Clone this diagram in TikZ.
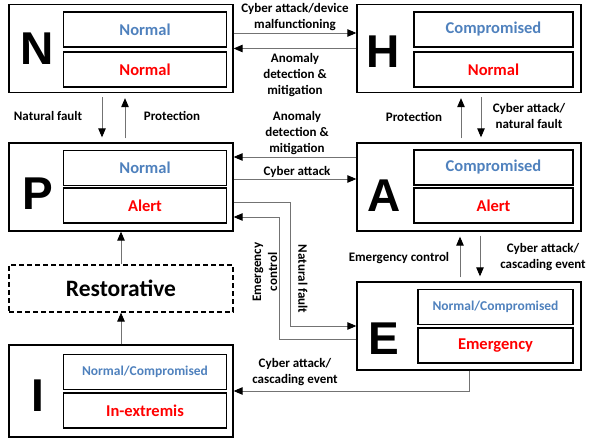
\documentclass[tikz,border=0pt]{standalone}
\usepackage{fontspec}
\setmainfont{Carlito}
\newfontfamily\letterfont{Liberation Sans}
\usetikzlibrary{arrows.meta}
\definecolor{stblue}{RGB}{79,129,189}
\definecolor{stred}{RGB}{255,0,0}
\newcommand{\lb}{\fontsize{13}{16}\selectfont\bfseries}

\begin{document}
\begin{tikzpicture}[x=1pt,y=-1pt,
   outer/.style={draw,line width=1.3pt,minimum width=224pt,minimum height=88pt,inner sep=0pt},
   inner/.style={draw,line width=1.2pt,minimum width=163pt,minimum height=35pt,inner sep=0pt,
                 font=\fontsize{16.5}{18}\selectfont\bfseries},
   letter/.style={font=\letterfont\fontsize{46}{46}\selectfont\bfseries},
   lbl/.style={align=center,font=\lb,inner sep=0pt},
   conn/.style={draw=black!55,line width=0.9pt,-{Triangle[length=9pt,width=7.5pt,black]}},
   vconn/.style={conn,shorten <=4pt,shorten >=5pt}]
   \useasboundingbox (0,0) rectangle (590,441);
   % states
   \node[outer] (N) at (121,48.5) {};
   \node[letter] (Nl) at (37,49) {N};
   \node[inner,text=stblue] (Ns) at (145,29.5) {Normal};
   \node[inner,text=stred]  (Nc) at (145,69.5) {Normal};
   \node[outer] (H) at (469,48.5) {};
   \node[letter] (Hl) at (383,52) {H};
   \node[inner,minimum width=159pt,text=stblue] (Hs) at (493.5,29.5) {Compromised};
   \node[inner,minimum width=159pt,text=stred]  (Hc) at (493.5,69.5) {Normal};
   \node[outer] (P) at (121,187) {};
   \node[letter] (Pl) at (38,194) {P};
   \node[inner,text=stblue] (Ps) at (145,168) {Normal};
   \node[inner,text=stred]  (Pc) at (145,205.5) {Alert};
   \node[outer] (A) at (469,187) {};
   \node[letter] (Al) at (384,196) {A};
   \node[inner,minimum width=159pt,text=stblue] (As) at (493.5,167.5) {Compromised};
   \node[inner,minimum width=159pt,text=stred]  (Ac) at (493.5,205.5) {Alert};
   \node[outer] (E) at (469,326) {};
   \node[letter] (El) at (384,339) {E};
   \node[inner,minimum width=155pt,text=stblue,font=\fontsize{13.5}{15}\selectfont\bfseries] (Es) at (495.5,307) {Normal/Compromised};
   \node[inner,minimum width=155pt,text=stred]  (Ec) at (495.5,345.5) {Emergency};
   \node[outer,minimum height=92pt] (I) at (121,391) {};
   \node[letter] (Il) at (38,396) {I};
   \node[inner,text=stblue,font=\fontsize{13.5}{15}\selectfont\bfseries] (Is) at (145,372) {Normal/Compromised};
   \node[inner,text=stred]  (Ic) at (145,410.5) {In-extremis};
   \node[draw,dash pattern=on 5pt off 3pt,line width=1.2pt,minimum width=224pt,minimum height=47pt,
         font=\fontsize{23.5}{26}\selectfont\bfseries] (R) at (121,288.5) {Restorative};
   % transitions
   \draw[conn] ([yshift=15.5pt]N.east) -- ([yshift=15.5pt]H.west);
   \draw[conn] (H.west) -- (N.east);
   \draw[vconn] ([xshift=-19pt]N.south) -- ([xshift=-19pt]P.north);
   \draw[vconn] ([xshift=4pt]P.north) -- ([xshift=4pt]N.south);
   \draw[conn] ([yshift=30pt]A.west) -- ([yshift=30pt]P.east);
   \draw[conn] ([yshift=8pt]P.east) -- ([yshift=8pt]A.west);
   \draw[vconn] ([xshift=-8pt]A.north) -- ([xshift=-8pt]H.south);
   \draw[vconn] ([xshift=12pt]H.south) -- ([xshift=12pt]A.north);
   \draw[vconn] ([xshift=-9pt]E.north) -- ([xshift=-9pt]A.south);
   \draw[vconn] ([xshift=11pt]A.south) -- ([xshift=11pt]E.north);
   \draw[conn] ([yshift=-15pt]P.east) -- ++(57,0) |- (E.west);
   \draw[conn] ([yshift=-13pt]E.west) -- ++(-77,0) |- ([yshift=-30pt]P.east);
   \draw[conn] (E.south) |- (I.east);
   \draw[conn] (R.north) -- (P.south);
   \draw[conn] (I.north) -- (R.south);
   % labels
   \node[lbl] (t1) at (295,17) {Cyber attack/device\\malfunctioning};
   \node[lbl] (t2) at (295,75) {Anomaly\\detection \&\\mitigation};
   \node[lbl] (t3) at (48,116) {Natural fault};
   \node[lbl] (t4) at (172,116) {Protection};
   \node[lbl] (t5) at (414,117) {Protection};
   \node[lbl] (t6) at (529,116) {Cyber attack/\\natural fault};
   \node[lbl] (t7) at (297,133) {Anomaly\\detection \&\\mitigation};
   \node[lbl] (t8) at (297,172) {Cyber attack};
   \node[lbl,rotate=90] (t9) at (265,272) {Emergency\\control};
   \node[lbl,rotate=-90] (t10) at (303,279) {Natural fault};
   \node[lbl] (t11) at (399,258) {Emergency control};
   \node[lbl] (t12) at (543,257) {Cyber attack/\\cascading event};
   \node[lbl] (t13) at (295,372.5) {Cyber attack/\\cascading event};
\end{tikzpicture}
\end{document}
